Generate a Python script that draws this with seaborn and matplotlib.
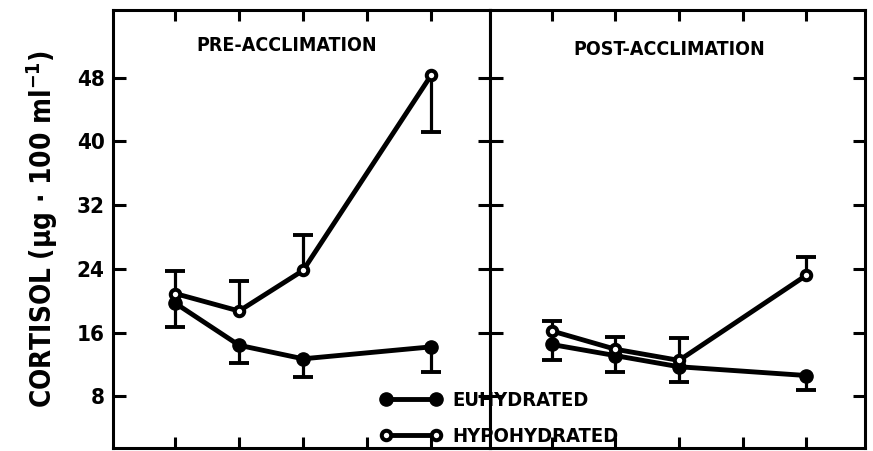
import matplotlib
matplotlib.use("Agg")
import matplotlib.pyplot as plt
from matplotlib.lines import Line2D
import seaborn as sns
import pandas as pd

sns.set_style("white")
FONT = ["DejaVu Sans"]
plt.rcParams["font.family"] = FONT
plt.rcParams["font.weight"] = "bold"
plt.rcParams["font.stretch"] = "condensed"
for k in ["text.color", "axes.labelcolor", "xtick.color", "ytick.color"]:
    plt.rcParams[k] = "black"
plt.rcParams["mathtext.fontset"] = "custom"
plt.rcParams["mathtext.rm"] = "DejaVu Sans:bold"
plt.rcParams["mathtext.bf"] = "DejaVu Sans:bold"
plt.rcParams["mathtext.it"] = "DejaVu Sans:bold"

# ---- data ----
time_idx = [0, 1, 2, 4]
tick_positions = [0, 1, 2, 3, 4]
y_ticks = [8, 16, 24, 32, 40, 48]
panels = ["PRE-ACCLIMATION", "POST-ACCLIMATION"]
conditions = ["EUHYDRATED", "HYPOHYDRATED"]

pre_euh = [19.7, 14.4, 12.7, 14.2]
pre_euh_lo = [3.0, 2.2, 2.3, 3.1]
pre_euh_hi = [0, 0, 0, 0]
pre_hyp = [20.9, 18.7, 23.8, 48.3]
pre_hyp_lo = [0, 0, 0, 7.1]
pre_hyp_hi = [2.8, 3.8, 4.4, 0]

post_euh = [14.5, 13.1, 11.7, 10.6]
post_euh_lo = [1.9, 2.0, 1.9, 1.8]
post_euh_hi = [0, 0, 0, 0]
post_hyp = [16.2, 13.9, 12.5, 23.2]
post_hyp_lo = [0, 0, 0, 0]
post_hyp_hi = [1.3, 1.6, 2.8, 2.3]

series = {
    ("PRE-ACCLIMATION", "EUHYDRATED"): (pre_euh, pre_euh_lo, pre_euh_hi),
    ("PRE-ACCLIMATION", "HYPOHYDRATED"): (pre_hyp, pre_hyp_lo, pre_hyp_hi),
    ("POST-ACCLIMATION", "EUHYDRATED"): (post_euh, post_euh_lo, post_euh_hi),
    ("POST-ACCLIMATION", "HYPOHYDRATED"): (post_hyp, post_hyp_lo, post_hyp_hi),
}

rows = []
for (p, c), (m, lo, hi) in series.items():
    for t, v, l, h in zip(time_idx, m, lo, hi):
        rows.append(dict(panel=p, condition=c, time=t, cortisol=v, lo=l, hi=h))
df = pd.DataFrame(rows)

# ---- figure ----
fig = plt.figure(figsize=(8.73, 4.51), dpi=100)
left, right, top, bottom = 113 / 873, 865 / 873, 1 - 10 / 451, 1 - 448 / 451
split = 490 / 873
ax1 = fig.add_axes([left, bottom, split - left, top - bottom])
ax2 = fig.add_axes([split, bottom, right - split, top - bottom], sharey=ax1)

LW = 3.5
styles = {
    "EUHYDRATED": dict(marker="o", markersize=9.5, markerfacecolor="black",
                       markeredgecolor="black", markeredgewidth=1.0),
    "HYPOHYDRATED": dict(marker="o", markersize=6.8, markerfacecolor="white",
                         markeredgecolor="black", markeredgewidth=2.9),
}

for ax, panel, title_x, title_y in [(ax1, panels[0], 0.46, 0.918),
                                    (ax2, panels[1], 0.478, 0.91)]:
    sub = df[df.panel == panel]
    for cond in conditions:
        d = sub[sub.condition == cond]
        # one-sided error stems
        ax.errorbar(d["time"], d["cortisol"], yerr=[d["lo"], d["hi"]],
                    fmt="none", ecolor="black", elinewidth=2.3, capsize=0,
                    zorder=1)
        # caps only at the drawn ends
        lo_d = d[d["lo"] > 0]
        hi_d = d[d["hi"] > 0]
        ends_x = list(lo_d["time"]) + list(hi_d["time"])
        ends_y = list(lo_d["cortisol"] - lo_d["lo"]) + list(hi_d["cortisol"] + hi_d["hi"])
        ax.plot(ends_x, ends_y, linestyle="none", marker="_", markersize=14.4,
                markeredgewidth=2.8, color="black", zorder=1)
        sns.lineplot(data=d, x="time", y="cortisol", ax=ax, color="black",
                     linewidth=LW, zorder=3, legend=False, **styles[cond])
    ax.set_xlim(-0.97, 4.92)
    ax.set_ylim(1.5, 56.5)
    ax.set_xticks(tick_positions)
    ax.set_xticklabels([])
    ax.set_xlabel("")
    ax.set_ylabel("")
    ax.set_yticks(y_ticks)
    ax.text(title_x, title_y, panel, transform=ax.transAxes, ha="center",
            va="center", fontsize=14, fontweight="bold", fontstretch="condensed")
    for s in ax.spines.values():
        s.set_visible(True)
        s.set_color("black")
        s.set_linewidth(2.2)
    ax.tick_params(axis="both", which="both", direction="in", width=2.2,
                   color="black", top=True, bottom=True, left=True, right=True)
    ax.tick_params(axis="y", length=9)
    ax.tick_params(axis="x", length=8)

ax1.tick_params(axis="y", labelleft=True, labelsize=16, pad=6)
ax2.tick_params(axis="y", labelleft=False)
for lbl in ax1.get_yticklabels():
    lbl.set_fontweight("bold")
    lbl.set_fontstretch("condensed")

ax1.set_ylabel(r"CORTISOL ($\mu$g $\bullet$ 100 ml$^{-1}$)", fontsize=20,
               fontweight="bold", fontstretch="condensed", labelpad=12)

handles = [
    Line2D([0], [0], color="black", linewidth=LW, **styles["EUHYDRATED"]),
    Line2D([0], [0], color="black", linewidth=LW, **styles["HYPOHYDRATED"]),
]
leg = fig.legend(handles, conditions, loc="upper left",
                 bbox_to_anchor=(362 / 873, 1 - 373 / 451), frameon=False,
                 numpoints=2, handlelength=3.05, handletextpad=0.55,
                 labelspacing=0.82,
                 prop=dict(weight="bold", size=14.5, stretch="condensed"))

fig.savefig("out.png", dpi=100)
